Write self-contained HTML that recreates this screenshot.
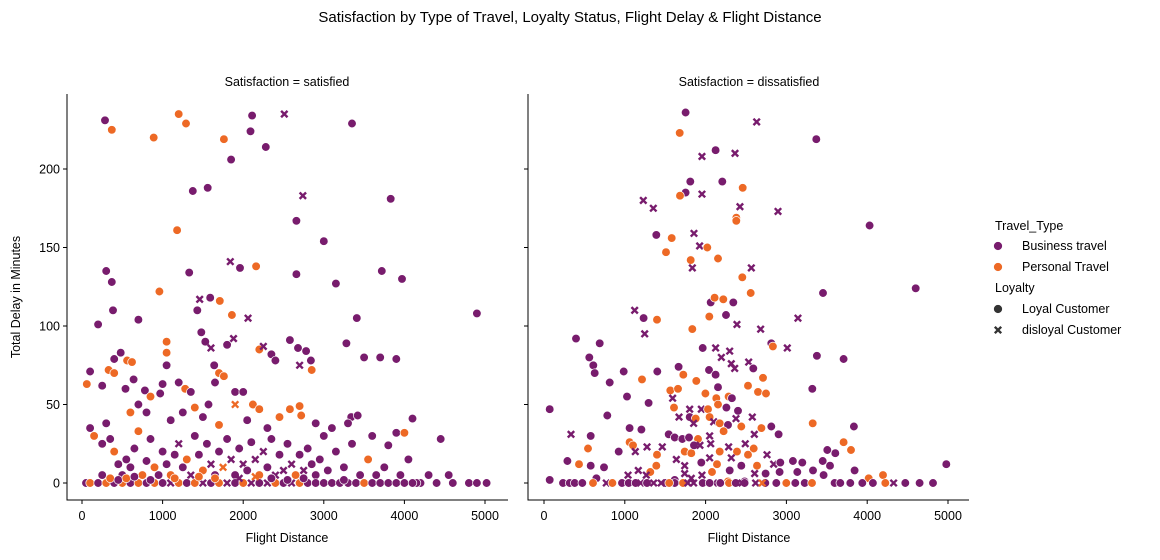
<!DOCTYPE html>
<html><head><meta charset="utf-8"><style>
body{margin:0;background:#fff;}
svg text{font-family:"Liberation Sans",sans-serif;fill:#000;}
</style></head><body>
<svg id="chart" width="1160" height="555" xmlns="http://www.w3.org/2000/svg">
<text x="570" y="22" font-size="15" text-anchor="middle">Satisfaction by Type of Travel, Loyalty Status, Flight Delay &amp; Flight Distance</text>
<text x="287" y="86" font-size="12.5" text-anchor="middle">Satisfaction = satisfied</text>
<text x="749" y="86" font-size="12.5" text-anchor="middle">Satisfaction = dissatisfied</text>
<text x="287" y="542" font-size="12.5" text-anchor="middle">Flight Distance</text>
<text x="749" y="542" font-size="12.5" text-anchor="middle">Flight Distance</text>
<text x="0" y="0" font-size="12.5" text-anchor="middle" transform="translate(20,297) rotate(-90)">Total Delay in Minutes</text>
<g>
<text x="995" y="230" font-size="12.5">Travel_Type</text>
<circle cx="998" cy="246" r="4.5" fill="#781c6d" stroke="#fff" stroke-width="0.7"/>
<text x="1022" y="250" font-size="12.5">Business travel</text>
<circle cx="998" cy="267" r="4.5" fill="#ed6925" stroke="#fff" stroke-width="0.7"/>
<text x="1022" y="271" font-size="12.5">Personal Travel</text>
<text x="995" y="292" font-size="12.5">Loyalty</text>
<circle cx="998" cy="309" r="4.5" fill="#333" stroke="#fff" stroke-width="0.7"/>
<text x="1022" y="313" font-size="12.5">Loyal Customer</text>
<path d="M994.8,326.8L1001.2,333.2M1001.2,326.8L994.8,333.2" stroke="#333" stroke-width="2.4"/>
<text x="1022" y="334" font-size="12.5">disloyal Customer</text>
</g>
</svg>
<script>
const xTicks=[0,1000,2000,3000,4000,5000];
const yTicks=[0,50,100,150,200];
const satDist=[285,370,1200,1290,890,1760,2110,2090,2510,2280,1850,1375,1560,3350,3830,2740,1180,3000,2660,300,370,1330,1840,1960,2160,2660,3150,3720,3970,960,200,385,700,1430,1590,1710,1860,2060,3410,4900,1050,1460,
100,60,250,330,400,480,560,620,640,400,540,780,850,970,1000,1050,1050,1200,1280,1350,1480,1530,1600,1640,1650,1700,1760,1880,1800,1900,2000,2200,2250,2350,2400,2580,2680,2700,2780,2840,2850,3280,3500,3700,3900,1570,1900,2120,2200,2580,2700,2720,3340,3420,4100,4450,600,700,800,1100,1250,1400,1500,1700,2050,2300,2450,2900,3000,3100,3300,3600,3900,4000,3800,4300,4550,4800,4900,5020,4600,4200,
100,150,250,300,350,400,450,500,550,600,650,700,750,800,850,900,950,1000,1050,1100,1150,1200,1250,1300,1350,1400,1450,1500,1550,1600,1650,1700,1750,1800,1850,1900,1950,2000,2050,2100,2150,2200,2250,2300,2350,2400,2450,2500,2550,2600,2650,2700,2750,2800,2850,2900,2950,3050,3150,3250,3350,3450,3550,3650,3750,3950,4050,4150,
50,100,200,300,400,500,600,700,800,900,1000,1100,1200,1300,1400,1500,1600,1700,1800,1900,2000,2100,2200,2300,2400,2500,2600,2700,2800,2900,3000,3100,3200,3300,3400,3500,3600,3700,3800,3900,4000,4100,4400,
250,350,450,550,650,850,1150,1650,1950,2350,2550,2750,3250,1450,2150];
const satDelay=[231,225,235,229,220,219,234,224,235,214,206,186,188,229,181,183,161,154,167,135,128,134,141,137,138,133,127,135,130,122,101,110,104,110,118,116,107,105,105,108,90,117,
71,63,62,72,79,83,78,77,66,70,60,59,55,57,63,75,83,64,60,58,96,90,86,75,64,70,68,92,88,58,58,85,87,82,78,91,86,75,84,78,72,89,80,80,79,50,50,50,47,47,49,43,42,43,41,28,45,50,45,40,45,48,42,37,40,35,42,38,30,35,38,30,32,32,24,5,5,0,0,0,0,0,
35,30,25,38,28,20,12,5,15,10,22,33,5,14,28,10,5,20,12,5,18,25,10,15,5,30,18,8,25,12,5,20,10,28,15,5,22,12,8,26,15,5,20,10,28,5,18,8,25,12,5,18,8,22,12,5,15,8,20,10,25,5,15,5,10,5,15,0,
0,0,0,0,0,0,0,0,0,0,0,0,0,0,0,0,0,0,0,0,0,0,0,0,0,0,0,0,0,0,0,0,0,0,0,0,0,0,0,0,0,0,0,
5,3,2,3,4,2,3,3,3,3,2,3,2,4,4];
const satGroup=['BL','PL','PL','PL','PL','PL','BL','BL','BD','BL','BL','BL','BL','BL','BL','BD','PL','BL','BL','BL','BL','BL','BD','BL','PL','BL','BL','BL','BL','PL','BL','BL','BL','BL','BL','PL','PL','BD','BL','BL','PL','BD',
'BL','PL','BL','PL','BL','BL','PL','PL','BL','PL','BL','BL','PL','BL','BL','BL','PL','BL','PL','BL','BL','BL','BD','BL','BL','PL','PL','BD','BL','BL','BL','PL','BD','BL','BL','BL','BL','BD','BL','BL','PL','BL','BL','BL','BL','BL','PD','PL','PL','PL','PL','PL','BL','BL','BL','BL','PL','BL','BL','BL','BL','PL','BL','PL','BL','BL','PL','BL','BL','BL','BL','BL','BL','PL','BL','BL','BL','BL','BL','BL','BL','BL',
'BL','PL','BL','BL','BL','PL','BL','BL','BL','BL','BL','PL','PL','BL','BL','PL','BL','BL','BL','PL','BL','BD','BL','PL','BD','BL','BL','PL','BL','BD','BL','BL','PD','BL','BD','BL','BL','BD','BL','BL','BD','PL','BD','BL','BL','BD','BL','BD','BL','BD','PL','BL','BD','BL','BL','BL','BL','BL','BL','BL','BL','BL','PL','BL','BL','BL','BL','BL',
'BL','PL','BL','PL','BL','PL','BL','PL','BL','PL','BL','BD','PL','BL','PL','BD','BL','PL','BD','BL','PL','BD','BL','BD','PL','BL','BD','PL','BL','BL','BL','BL','BL','BL','BL','PL','BL','BL','BL','BL','BL','BL','BL',
'BL','PL','BL','PL','BL','BL','PL','PL','BD','BL','BL','BL','BL','PL','PD'];

const disDist=[1753,2632,3370,1679,2124,1955,2364,1811,2207,1753,1683,2459,1955,1229,1353,2425,2896,2380,2380,4030,1390,1580,1856,1926,2021,1510,1815,2153,1836,2566,2454,4600,3453,2558,2063,2112,2219,2343,2252,1122,1233,1398,2046,1836,2388,2681,3143,1246,
396,689,1964,2124,2298,2195,2318,2360,2533,2813,2833,3011,3378,3708,561,610,627,986,1402,813,1666,1724,2042,2124,2590,1885,1213,2710,2525,2153,1563,1658,2648,2747,3321,1027,1295,1592,1997,2133,2285,2326,1609,1803,1947,2030,2153,2257,2401,784,70,
1671,1803,1877,2050,2100,2376,2578,1852,2174,2277,2442,2690,2813,2904,3325,3836,334,578,1060,1205,1543,1617,1712,1794,1906,2050,2223,2603,545,924,1060,1101,1130,1275,1398,1464,1741,1823,1856,1930,2063,2174,2285,2388,2491,2595,2760,3506,3605,3708,3799,
289,433,578,743,1167,1390,1638,1741,1947,2050,2141,2318,2442,2525,2636,2842,2924,3081,3197,3449,3540,4979,1316,1741,1955,2079,2298,2607,2743,2916,3135,3329,3461,3844,4195,4018,70,648,1040,1266,1617,1823,2277,2483,
235,318,380,474,606,771,846,965,1048,1134,1196,1275,1357,1502,1617,1720,1852,1964,2100,2182,2289,2372,2483,2619,2739,2875,2999,3110,3226,3317,3597,3667,3791,3939,4071,4224,4327,4472,4649,4814,1450,1550,1780,2050,2700,2450];
const disDelay=[236,230,219,223,212,208,210,192,192,185,183,188,184,180,175,176,173,169,167,164,158,156,159,151,150,147,142,143,137,137,131,124,121,121,115,118,117,115,107,110,105,104,106,98,101,98,105,95,
92,89,86,86,84,80,76,73,77,89,87,86,81,79,80,75,70,71,71,64,74,69,72,69,73,65,66,67,62,61,59,60,58,57,60,55,51,54,57,54,55,54,48,47,47,47,50,48,46,43,47,
42,42,41,42,39,41,42,38,38,37,36,35,36,31,38,36,31,30,35,34,31,29,28,29,28,30,33,31,22,20,26,24,20,23,18,23,20,19,24,24,25,20,23,20,25,22,18,21,19,26,21,
14,12,11,10,8,11,15,11,13,16,12,16,11,18,11,12,13,14,13,14,11,12,7,6,5,7,8,6,6,7,7,8,5,8,5,3,2,3,5,5,2,3,1,1,
0,0,0,0,0,0,0,0,0,0,0,0,0,0,0,0,0,0,0,0,0,0,0,0,0,0,0,0,0,0,0,0,0,0,0,0,0,0,0,0,0,0,0,0,0,0];
const disGroup=['BL','BD','BL','PL','BL','BD','BD','BL','BL','BL','PL','PL','BD','BD','BD','BD','BD','PL','PL','BL','BL','PL','BD','BD','PL','PL','PL','PL','BD','BD','PL','BL','BL','PL','BL','PL','PL','BL','BL','BD','BL','PL','PL','PL','BD','BD','BD','BD',
'BL','BL','BL','BD','BD','BD','BD','BD','BD','BL','PL','BD','BL','BL','BL','BL','BL','BL','BL','BL','BL','PL','BL','BL','BL','PL','PL','PL','PL','BL','PL','PL','PL','PL','BL','BL','BL','BD','PL','PL','PL','BL','PL','BD','BD','PL','PL','BL','BL','BL','BL',
'BD','BL','PL','PL','BD','BD','BD','BD','PL','BL','PL','PL','BL','BL','PL','BL','BD','BL','BL','BL','BL','BL','BL','BL','PL','BD','PL','BD','PL','BL','PL','PL','BD','BD','PL','BD','PL','PL','BL','BD','BD','PL','BD','PL','BD','PL','BD','BL','BL','PL','PL',
'BL','PL','BL','BL','BD','PL','BD','BD','BL','BD','PL','BD','BL','PL','PL','BD','BL','BL','BL','BL','BL','BL','PL','BD','BD','PL','BL','BD','BL','BL','BL','BL','BL','BL','PL','PL','BL','BL','BD','BD','BL','BD','PL','BL',
'BL','BL','BL','BL','PL','BD','PL','BL','BL','BL','BD','BL','BD','BL','BL','PL','BD','BL','BD','BL','PL','BL','BL','BD','BL','BL','PL','BL','BL','PL','BL','BL','BL','BL','BL','PL','BD','BL','BL','BL','BD','PL','BD','BL','PD','BD'];

const svg=document.getElementById('chart');
const NS='http://www.w3.org/2000/svg';
const colors={B:'#781c6d',P:'#ed6925'};
function yScale(v){return 483-v*1.57;}
function mk(tag,attrs,parent){const e=document.createElementNS(NS,tag);for(const k in attrs)e.setAttribute(k,attrs[k]);parent.appendChild(e);return e;}

function panel(x0,left,right,dist,delay,group,name,showY){
  const xScale=d=>x0+d*((right-x0)/5000);
  const g=mk('g',{},svg);
  
  
  const ax=mk('path',{d:`M${left},94V500H${left+441}`,stroke:'#000','stroke-width':1,fill:'none'},g);
  
  
  xTicks.forEach(t=>{
    const x=xScale(t);
    const tk=mk('line',{x1:x,x2:x,y1:500,y2:504,stroke:'#000'},g);
    
    
    const tl=mk('text',{x:x,y:520,'font-size':12.5,'text-anchor':'middle'},g);
    tl.textContent=t;
    
    
  });
  yTicks.forEach(t=>{
    const y=yScale(t);
    const tk=mk('line',{x1:left-4,x2:left,y1:y,y2:y,stroke:'#000'},g);
    
    
    if(showY){
      const tl=mk('text',{x:left-7,y:y+4.5,'font-size':12.5,'text-anchor':'end'},g);
      tl.textContent=t;
      
      
    }
  });
  for(let i=0;i<dist.length;i++){
    const x=xScale(dist[i]),y=yScale(delay[i]);
    const c=colors[group[i][0]];
    let m;
    if(group[i][1]==='L'){
      m=mk('circle',{cx:x.toFixed(1),cy:y.toFixed(1),r:4.3,fill:c,stroke:'#fff','stroke-width':0.7},g);
    }else{
      const s=3.2;
      m=mk('path',{d:`M${x-s},${y-s}L${x+s},${y+s}M${x+s},${y-s}L${x-s},${y+s}`,stroke:c,'stroke-width':2.4},g);
    }
    
    
  }
}
panel(82,67,485,satDist,satDelay,satGroup,'satisfied',true);
panel(544,528,948,disDist,disDelay,disGroup,'dissatisfied',false);
</script>
</body></html>
